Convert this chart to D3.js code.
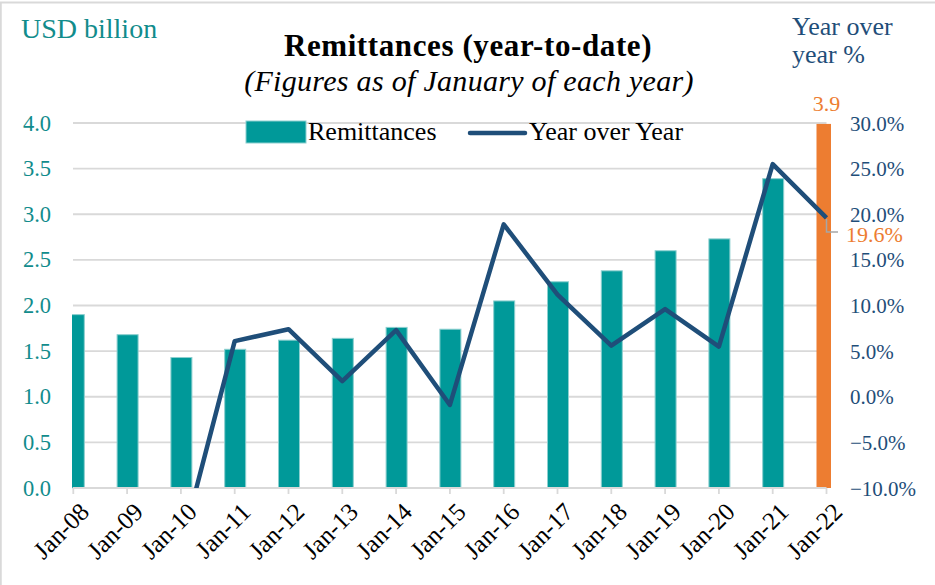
<!DOCTYPE html>
<html>
<head>
<meta charset="utf-8">
<script src="https://cdn.jsdelivr.net/npm/d3@7"></script>
<style>
  body { margin: 0; background: #fff; }
  svg { display: block; font-family: "Liberation Serif", serif; }
</style>
</head>
<body>
<script>
// Data
var months = ["Jan-08", "Jan-09", "Jan-10", "Jan-11", "Jan-12", "Jan-13", "Jan-14", "Jan-15",
              "Jan-16", "Jan-17", "Jan-18", "Jan-19", "Jan-20", "Jan-21", "Jan-22"];
var remittances = [1.90, 1.68, 1.43, 1.52, 1.62, 1.64, 1.76, 1.74, 2.05, 2.26, 2.38, 2.60, 2.73, 3.39, 3.99];
var yoy = [null, null, -16.5, 6.1, 7.4, 1.7, 7.3, -0.9, 18.9, 11.2, 5.6, 9.6, 5.5, 25.5, 19.6];
var leftTicks = [0, 0.5, 1, 1.5, 2, 2.5, 3, 3.5, 4];
var rightTicks = [-10, -5, 0, 5, 10, 15, 20, 25, 30];
var lastBarLabel = "3.9";
var lastYoyLabel = "19.6%";

var W = 935, H = 585;
var teal = "#009999", orange = "#ED7D31", navy = "#1F4E79", grid = "#D9D9D9";
var tealText = "#118C8C";

var svg = d3.select("body").append("svg")
    .attr("width", W)
    .attr("height", H);

// frame
svg.append("rect")
    .attr("x", 0.75).attr("y", 2.5)
    .attr("width", W + 10).attr("height", H + 10)
    .attr("fill", "none")
    .attr("stroke", grid)
    .attr("stroke-width", 2);

var x = d3.scalePoint().domain(months).range([73.3, 826.5]);
var yL = d3.scaleLinear().domain([0, 4]).range([488, 123]);
var yR = d3.scaleLinear().domain([-10, 30]).range([488, 123]);

// gridlines
svg.append("g")
  .selectAll("line")
  .data(leftTicks.slice(1))
  .enter().append("line")
    .attr("x1", 73).attr("x2", 826.5)
    .attr("y1", function(d) { return yL(d); })
    .attr("y2", function(d) { return yL(d); })
    .attr("stroke", grid)
    .attr("stroke-width", 1.8);

svg.append("clipPath").attr("id", "barclip")
  .append("rect").attr("x", 72).attr("y", 0).attr("width", 759).attr("height", 489);
svg.append("clipPath").attr("id", "lineclip")
  .append("rect").attr("x", 0).attr("y", 100).attr("width", W).attr("height", 388);

var bw = 21;
svg.append("g")
    .attr("clip-path", "url(#barclip)")
  .selectAll(".bar")
  .data(months)
  .enter().append("rect")
    .attr("class", "bar")
    .attr("x", function(d) { return x(d) + 0.5 - bw / 2; })
    .attr("width", bw)
    .attr("y", function(d, i) { return yL(remittances[i]); })
    .attr("height", function(d, i) { return yL(0) - yL(remittances[i]); })
    .attr("fill", function(d, i) { return i === months.length - 1 ? orange : teal; })
    .attr("stroke", function(d, i) { return i === months.length - 1 ? "none" : "#8ccfcf"; })
    .attr("stroke-width", 1);

// x axis line and ticks
svg.append("line")
    .attr("x1", 73).attr("x2", 826.5)
    .attr("y1", 488).attr("y2", 488)
    .attr("stroke", grid).attr("stroke-width", 2);
svg.append("g")
  .selectAll("line")
  .data(months)
  .enter().append("line")
    .attr("x1", function(d) { return x(d); })
    .attr("x2", function(d) { return x(d); })
    .attr("y1", 488).attr("y2", 494)
    .attr("stroke", grid).attr("stroke-width", 1.8);

// YoY line
var line = d3.line()
    .defined(function(d) { return d.v !== null; })
    .x(function(d) { return x(d.m); })
    .y(function(d) { return yR(d.v); });

svg.append("path")
    .datum(months.map(function(m, i) { return {m: m, v: yoy[i]}; }))
    .attr("clip-path", "url(#lineclip)")
    .attr("d", line)
    .attr("fill", "none")
    .attr("stroke", navy)
    .attr("stroke-width", 4.5)
    .attr("stroke-linejoin", "round");

// left axis labels
svg.append("g")
  .selectAll("text")
  .data(leftTicks)
  .enter().append("text")
    .attr("x", 51)
    .attr("y", function(d) { return yL(d) + 7.5; })
    .attr("text-anchor", "end")
    .attr("fill", tealText)
    .style("font-size", "22.5px")
    .text(function(d) { return d3.format(".1f")(d); });

// right axis labels
svg.append("g")
  .selectAll("text")
  .data(rightTicks)
  .enter().append("text")
    .attr("x", 850)
    .attr("y", function(d) { return yR(d) + 7.5; })
    .attr("fill", navy)
    .style("font-size", "21px")
    .text(function(d) { return d3.format(".1f")(d) + "%"; });

// x labels
svg.append("g")
  .selectAll("text")
  .data(months)
  .enter().append("text")
    .attr("transform", function(d) { return "translate(" + (x(d) + 5) + ",501) rotate(-45)"; })
    .attr("text-anchor", "end")
    .attr("dy", "0.7em")
    .attr("fill", "#000")
    .style("font-size", "25px")
    .text(function(d) { return d; });

// data labels on last point
var last = months[months.length - 1];
svg.append("text")
    .attr("x", x(last))
    .attr("y", 111)
    .attr("text-anchor", "middle")
    .attr("fill", orange)
    .style("font-size", "22px")
    .text(lastBarLabel);
svg.append("path")
    .attr("d", "M" + x(last) + "," + (yR(yoy[yoy.length - 1]) + 1) + "V232H838")
    .attr("fill", "none")
    .attr("stroke", "#A6A6A6")
    .attr("stroke-width", 1.5);
svg.append("text")
    .attr("x", 846)
    .attr("y", 242)
    .attr("fill", orange)
    .style("font-size", "22px")
    .text(lastYoyLabel);

// titles
svg.append("text")
    .attr("x", 468).attr("y", 56)
    .attr("text-anchor", "middle")
    .style("font-size", "31px")
    .style("font-weight", "bold")
    .style("letter-spacing", "0.6px")
    .text("Remittances (year-to-date)");
svg.append("text")
    .attr("x", 469).attr("y", 91)
    .attr("text-anchor", "middle")
    .style("font-size", "30px")
    .style("font-style", "italic")
    .style("letter-spacing", "0.3px")
    .text("(Figures as of January of each year)");

svg.append("text")
    .attr("x", 21).attr("y", 38)
    .attr("fill", tealText)
    .style("font-size", "28px")
    .text("USD billion");
svg.append("text")
    .attr("x", 792).attr("y", 35)
    .attr("fill", navy)
    .style("font-size", "26px")
    .text("Year over");
svg.append("text")
    .attr("x", 792).attr("y", 63)
    .attr("fill", navy)
    .style("font-size", "26px")
    .text("year %");

// legend
svg.append("rect")
    .attr("x", 246).attr("y", 121)
    .attr("width", 60).attr("height", 22)
    .attr("fill", teal)
    .attr("stroke", "#8ccfcf").attr("stroke-width", 1);
svg.append("text")
    .attr("x", 308).attr("y", 140)
    .style("font-size", "26px")
    .text("Remittances");
svg.append("line")
    .attr("x1", 470).attr("x2", 525)
    .attr("y1", 133).attr("y2", 133)
    .attr("stroke", navy).attr("stroke-width", 4.5)
    .attr("stroke-linecap", "round");
svg.append("text")
    .attr("x", 529).attr("y", 140)
    .style("font-size", "26px")
    .text("Year over Year");
</script>
</body>
</html>
